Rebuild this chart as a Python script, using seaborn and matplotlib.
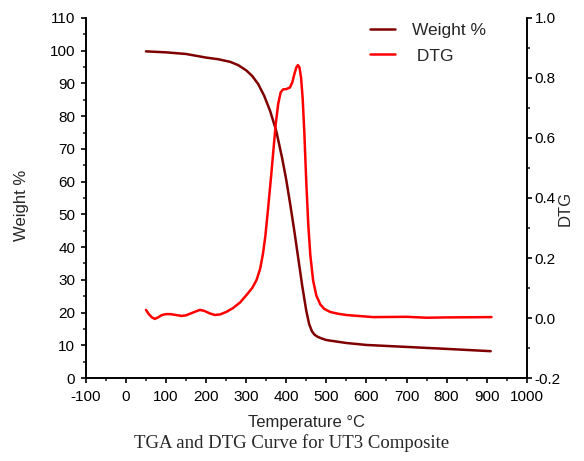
import matplotlib
matplotlib.use("Agg")
import matplotlib.pyplot as plt
import seaborn as sns
import pandas as pd
from matplotlib.ticker import MultipleLocator

# TGA weight curve
tga_temp = [50, 100, 150, 200, 230, 260, 280, 300, 315, 330, 345, 360, 375, 390,
            400, 410, 420, 430, 440, 450, 457, 464, 470, 478, 488, 500, 550, 600,
            700, 800, 910]
tga_weight = [99.8, 99.5, 99.0, 97.9, 97.4, 96.6, 95.6, 94.0, 92.3, 89.8, 86.2,
              81.5, 75.5, 67.0, 60.5, 53.0, 45.0, 36.5, 28.0, 20.5, 16.5, 14.3,
              13.3, 12.6, 12.1, 11.6, 10.7, 10.1, 9.5, 8.9, 8.2]

# DTG curve
dtg_temp = [50, 57, 65, 72, 80, 90, 100, 110, 125, 139, 150, 165, 184, 195, 210,
            222, 235, 250, 267, 285, 301, 315, 326, 335, 342, 348, 355, 362, 368,
            374, 380, 386, 392, 400, 409, 415, 420, 425, 429, 433, 437, 441, 445,
            450, 455, 460, 467, 475, 485, 495, 510, 530, 550, 617, 700, 750, 800,
            912]
dtg_value = [0.027, 0.013, 0.002, -0.003, 0.002, 0.010, 0.013, 0.013, 0.010,
             0.007, 0.009, 0.017, 0.027, 0.024, 0.015, 0.010, 0.012, 0.020, 0.033,
             0.052, 0.077, 0.100, 0.127, 0.165, 0.215, 0.275, 0.370, 0.470, 0.560,
             0.650, 0.715, 0.752, 0.762, 0.763, 0.768, 0.785, 0.812, 0.835, 0.843,
             0.835, 0.800, 0.730, 0.620, 0.450, 0.310, 0.210, 0.125, 0.075, 0.045,
             0.030, 0.020, 0.014, 0.010, 0.003, 0.004, 0.001, 0.002, 0.003]

tga = pd.DataFrame({"temp": tga_temp, "weight": tga_weight})
dtg = pd.DataFrame({"temp": dtg_temp, "dtg": dtg_value})

sns.set_style("ticks")
plt.rcParams["font.family"] = ["Liberation Sans", "DejaVu Sans"]
plt.rcParams["axes.unicode_minus"] = False

fig = plt.figure(figsize=(5.84, 4.61), dpi=100)
ax = fig.add_axes([0.147, 0.18, 0.755, 0.781])
ax2 = ax.twinx()

sns.lineplot(data=tga, x="temp", y="weight", ax=ax, color="#7f0000", lw=1.8,
             label="Weight %", legend=False)
sns.lineplot(data=dtg, x="temp", y="dtg", ax=ax2, color="#ff0000", lw=1.8,
             label="DTG", legend=False)

ax.set_xlim(-100, 1000)
ax.set_ylim(0, 110)
ax.xaxis.set_major_locator(MultipleLocator(100))
ax.xaxis.set_minor_locator(MultipleLocator(50))
ax.yaxis.set_major_locator(MultipleLocator(10))
ax.yaxis.set_minor_locator(MultipleLocator(5))
ax2.set_yticks([-0.2, 0.0, 0.2, 0.4, 0.6, 0.8, 1.0])
ax2.set_yticklabels(["-0.2", "0.0", "0.2", "0.4", "0.6", "0.8", "1.0"])
ax2.yaxis.set_minor_locator(MultipleLocator(0.1))
ax2.set_ylim(-0.2, 1.0)

for a in (ax, ax2):
    a.spines["top"].set_visible(False)
    a.tick_params(which="major", length=3.6, width=1.2, labelsize=11, colors="black")
    a.tick_params(which="minor", length=2.2, width=1.2)
    for s in a.spines.values():
        s.set_linewidth(1.2)
        s.set_color("black")
ax.tick_params(axis="y", which="major", pad=4)
ax.tick_params(axis="x", which="major", pad=5)
ax2.tick_params(axis="y", which="major", pad=2)

ax.set_xlabel("Temperature \u00b0C", fontsize=12, labelpad=8)
ax.set_ylabel("Weight %", fontsize=12)
ax2.set_ylabel("DTG", fontsize=12)
ax.yaxis.set_label_coords(-0.13, 0.48)
ax2.yaxis.set_label_coords(1.07, 0.47)

h1, l1 = ax.get_legend_handles_labels()
h2, l2 = ax2.get_legend_handles_labels()
ax2.legend(h1 + h2, ["Weight %", " DTG"], loc="upper left",
           bbox_to_anchor=(0.61, 1.03), frameon=False, fontsize=12.5,
           handlelength=1.4, handletextpad=1.0, labelspacing=0.6)

fig.text(0.5, 0.028, "TGA and DTG Curve for UT3 Composite", ha="center",
         fontsize=13.5, family=["Liberation Serif", "DejaVu Serif"])

fig.savefig("out.png", dpi=100)
